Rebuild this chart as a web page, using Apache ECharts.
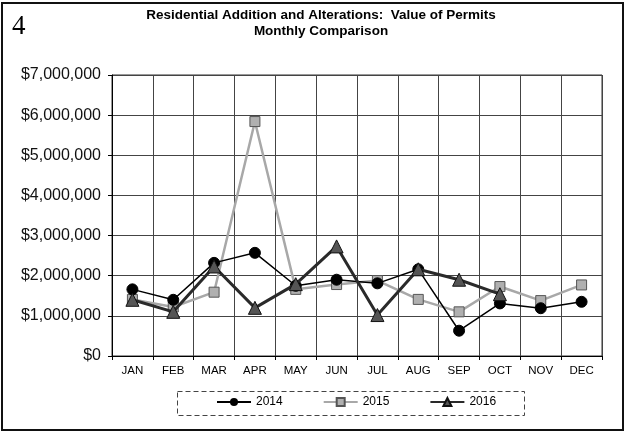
<!DOCTYPE html>
<html>
<head>
<meta charset="utf-8">
<script src="https://cdn.jsdelivr.net/npm/echarts@6/dist/echarts.min.js"></script>
<style>
html,body{margin:0;padding:0;background:#fff;}
#c{width:627px;height:433px;}
</style>
</head>
<body>
<div id="c"></div>
<script>
const categories = ['JAN','FEB','MAR','APR','MAY','JUN','JUL','AUG','SEP','OCT','NOV','DEC'];
const v2014 = [1660000, 1400000, 2320000, 2570000, 1750000, 1900000, 1810000, 2160000, 630000, 1310000, 1190000, 1350000];
const v2015 = [1410000, 1220000, 1590000, 5840000, 1660000, 1780000, 1880000, 1410000, 1100000, 1730000, 1380000, 1770000];
const v2016 = [1400000, 1100000, 2230000, 1200000, 1790000, 2730000, 1020000, 2160000, 1900000, 1540000, null, null];
const seriesNames = ['2014','2015','2016'];
const titleLines = ['Residential Addition and Alterations:  Value of Permits', 'Monthly Comparison'];
const pageNumber = '4';

const FONT = "'Liberation Sans', Arial, sans-serif";
const chart = echarts.init(document.getElementById('c'), null, {renderer:'canvas'});

function money(v){
  return '$' + String(v).replace(/\B(?=(\d{3})+(?!\d))/g, ',');
}

chart.setOption({
  animation: false,
  backgroundColor: '#fff',
  textStyle: {fontFamily: FONT},
  grid: {left: 112, right: 25, top: 75, bottom: 77, show: true, borderColor: '#333', borderWidth: 1, backgroundColor: 'transparent'},
  graphic: [
    {type:'rect', shape:{x:2, y:3, width:621, height:427}, style:{fill:'none', stroke:'#111', lineWidth:2}, z:-1},
    {type:'rect', shape:{x:177.5, y:391.5, width:347, height:24}, style:{fill:'none', stroke:'#444', lineWidth:1, lineDash:[5,3]}},
    {type:'text', x:12, y:13, style:{text:pageNumber, font:"27px 'Liberation Serif', 'DejaVu Serif', serif", fill:'#000'}},
    {type:'text', x:321, y:23, style:{text:titleLines.join('\n'), font:"bold 13.5px " + FONT, fill:'#000', textAlign:'center', textVerticalAlign:'middle', lineHeight:16}}
  ],
  legend: {
    data: seriesNames, left: 216, top: 396, itemWidth: 34, itemHeight: 10, itemGap: 40,
    textStyle: {fontSize: 12, color: '#000', fontFamily: FONT}, padding: 0
  },
  xAxis: {
    type: 'category', data: categories, boundaryGap: true,
    axisLine: {lineStyle: {color: '#000', width: 1}},
    axisTick: {show: true, length: 4, lineStyle: {color: '#000'}},
    axisLabel: {fontSize: 11.5, color: '#000', margin: 9, fontFamily: FONT},
    splitLine: {show: true, lineStyle: {color: '#444', width: 1}}
  },
  yAxis: {
    type: 'value', min: 0, max: 7000000, interval: 1000000,
    axisLine: {show: true, lineStyle: {color: '#000', width: 1}},
    axisTick: {show: true, length: 4, lineStyle: {color: '#000'}},
    axisLabel: {fontSize: 16, color: '#111', margin: 11, formatter: money, fontFamily: FONT},
    splitLine: {show: true, lineStyle: {color: '#444', width: 1}}
  },
  series: [
    {name: seriesNames[0], type: 'line', data: v2014, symbol: 'circle', symbolSize: 11,
     lineStyle: {color: '#000', width: 1.5}, itemStyle: {color: '#000', borderColor: '#000'}, z: 3},
    {name: seriesNames[1], type: 'line', data: v2015, symbol: 'rect', symbolSize: 10,
     lineStyle: {color: '#a8a8a8', width: 2.5}, itemStyle: {color: '#b0b0b0', borderColor: '#555', borderWidth: 1}, z: 2},
    {name: seriesNames[2], type: 'line', data: v2016, symbol: 'triangle', symbolSize: 13,
     lineStyle: {color: '#2a2a2a', width: 3}, itemStyle: {color: '#555', borderColor: '#111', borderWidth: 1}, z: 4}
  ]
});
</script>
</body>
</html>
